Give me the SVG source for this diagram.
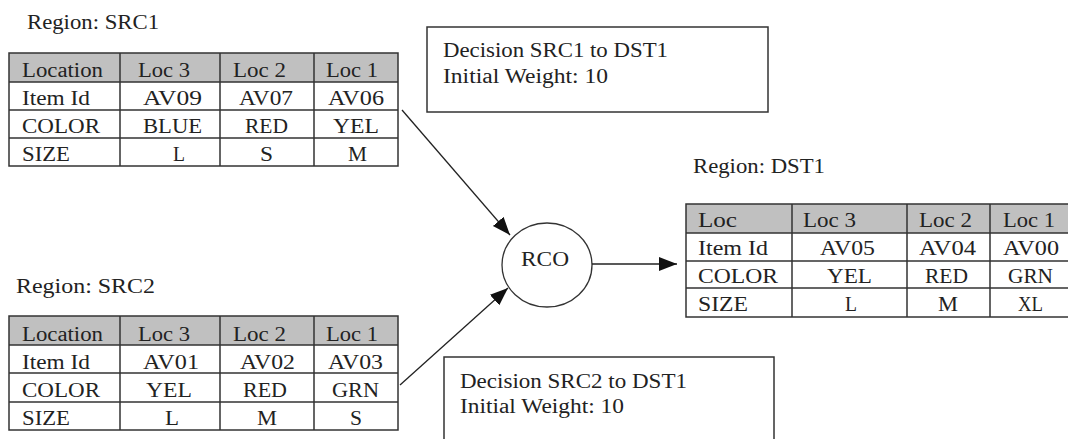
<svg xmlns="http://www.w3.org/2000/svg" width="1068" height="439" viewBox="0 0 1068 439">
<style>
text{font-family:"Liberation Serif","Times New Roman",serif;font-size:20px;fill:#222}
.hdr{fill:#c0c0c0;stroke:none}
.grid{stroke:#333;stroke-width:1.5;fill:none}
.box{fill:#fff;stroke:#333;stroke-width:1.5}
.conn{stroke:#222;stroke-width:1.3;fill:none}
</style>
<defs>
<marker id="ah" markerUnits="userSpaceOnUse" markerWidth="20" markerHeight="16" refX="18" refY="7" orient="auto"><path d="M0,0 L18,7 L0,14 z" fill="#111"/></marker>
</defs>
<rect width="1068" height="439" fill="#fff"/>

<g id="src1">
<text x="27" y="29" textLength="132" lengthAdjust="spacingAndGlyphs">Region: SRC1</text>
<rect class="hdr" x="9" y="53" width="389" height="29"/>
<rect class="grid" x="9" y="53" width="389" height="113"/>
<path class="grid" d="M9 82H398M9 110H398M9 138H398M120 53V166M220 53V166M314 53V166"/>
<text x="22" y="77" textLength="81" lengthAdjust="spacingAndGlyphs">Location</text>
<text x="138" y="77" textLength="52" lengthAdjust="spacingAndGlyphs">Loc 3</text>
<text x="233" y="77" textLength="53" lengthAdjust="spacingAndGlyphs">Loc 2</text>
<text x="326" y="77" textLength="52" lengthAdjust="spacingAndGlyphs">Loc 1</text>
<text x="22" y="105" textLength="68" lengthAdjust="spacingAndGlyphs">Item Id</text>
<text x="143" y="105" textLength="59" lengthAdjust="spacingAndGlyphs">AV09</text>
<text x="239" y="105" textLength="54" lengthAdjust="spacingAndGlyphs">AV07</text>
<text x="328" y="105" textLength="56" lengthAdjust="spacingAndGlyphs">AV06</text>
<text x="22" y="133" textLength="78" lengthAdjust="spacingAndGlyphs">COLOR</text>
<text x="143" y="133" textLength="59" lengthAdjust="spacingAndGlyphs">BLUE</text>
<text x="245" y="133" textLength="43" lengthAdjust="spacingAndGlyphs">RED</text>
<text x="333" y="133" textLength="46" lengthAdjust="spacingAndGlyphs">YEL</text>
<text x="22" y="161" textLength="48" lengthAdjust="spacingAndGlyphs">SIZE</text>
<text x="173" y="161" textLength="12" lengthAdjust="spacingAndGlyphs">L</text>
<text x="260" y="161" textLength="13" lengthAdjust="spacingAndGlyphs">S</text>
<text x="348" y="161" textLength="19" lengthAdjust="spacingAndGlyphs">M</text>
</g>

<g id="src2">
<text x="16" y="293" textLength="139" lengthAdjust="spacingAndGlyphs">Region: SRC2</text>
<rect class="hdr" x="9" y="316" width="389" height="29"/>
<rect class="grid" x="9" y="316" width="389" height="114"/>
<path class="grid" d="M9 345H398M9 373H398M9 402H398M120 316V430M220 316V430M314 316V430"/>
<text x="22" y="341" textLength="81" lengthAdjust="spacingAndGlyphs">Location</text>
<text x="138" y="341" textLength="52" lengthAdjust="spacingAndGlyphs">Loc 3</text>
<text x="233" y="341" textLength="53" lengthAdjust="spacingAndGlyphs">Loc 2</text>
<text x="326" y="341" textLength="52" lengthAdjust="spacingAndGlyphs">Loc 1</text>
<text x="22" y="369" textLength="68" lengthAdjust="spacingAndGlyphs">Item Id</text>
<text x="143" y="369" textLength="56" lengthAdjust="spacingAndGlyphs">AV01</text>
<text x="240" y="369" textLength="55" lengthAdjust="spacingAndGlyphs">AV02</text>
<text x="328" y="369" textLength="55" lengthAdjust="spacingAndGlyphs">AV03</text>
<text x="22" y="397" textLength="78" lengthAdjust="spacingAndGlyphs">COLOR</text>
<text x="146" y="397" textLength="46" lengthAdjust="spacingAndGlyphs">YEL</text>
<text x="243" y="397" textLength="44" lengthAdjust="spacingAndGlyphs">RED</text>
<text x="332" y="397" textLength="47" lengthAdjust="spacingAndGlyphs">GRN</text>
<text x="22" y="425" textLength="48" lengthAdjust="spacingAndGlyphs">SIZE</text>
<text x="165" y="425" textLength="14" lengthAdjust="spacingAndGlyphs">L</text>
<text x="257" y="425" textLength="20" lengthAdjust="spacingAndGlyphs">M</text>
<text x="350" y="425" textLength="12" lengthAdjust="spacingAndGlyphs">S</text>
</g>

<g id="dst1">
<text x="693" y="173" textLength="132" lengthAdjust="spacingAndGlyphs">Region: DST1</text>
<rect class="hdr" x="686" y="204" width="384" height="29"/>
<rect class="grid" x="686" y="204" width="384" height="113"/>
<path class="grid" d="M686 233H1070M686 261H1070M686 288H1070M792 204V317M907 204V317M990 204V317"/>
<text x="698" y="227" textLength="39" lengthAdjust="spacingAndGlyphs">Loc</text>
<text x="803" y="227" textLength="53" lengthAdjust="spacingAndGlyphs">Loc 3</text>
<text x="919" y="227" textLength="53" lengthAdjust="spacingAndGlyphs">Loc 2</text>
<text x="1003" y="227" textLength="52" lengthAdjust="spacingAndGlyphs">Loc 1</text>
<text x="698" y="255" textLength="70" lengthAdjust="spacingAndGlyphs">Item Id</text>
<text x="820" y="255" textLength="55" lengthAdjust="spacingAndGlyphs">AV05</text>
<text x="919" y="255" textLength="57" lengthAdjust="spacingAndGlyphs">AV04</text>
<text x="1003" y="255" textLength="56" lengthAdjust="spacingAndGlyphs">AV00</text>
<text x="698" y="283" textLength="80" lengthAdjust="spacingAndGlyphs">COLOR</text>
<text x="827" y="283" textLength="45" lengthAdjust="spacingAndGlyphs">YEL</text>
<text x="925" y="283" textLength="43" lengthAdjust="spacingAndGlyphs">RED</text>
<text x="1008" y="283" textLength="45" lengthAdjust="spacingAndGlyphs">GRN</text>
<text x="698" y="311" textLength="50" lengthAdjust="spacingAndGlyphs">SIZE</text>
<text x="845" y="311" textLength="12" lengthAdjust="spacingAndGlyphs">L</text>
<text x="938" y="311" textLength="20" lengthAdjust="spacingAndGlyphs">M</text>
<text x="1018" y="311" textLength="25" lengthAdjust="spacingAndGlyphs">XL</text>
</g>

<g id="decision1">
<rect class="box" x="427" y="27" width="341" height="85"/>
<text x="443" y="57" textLength="225" lengthAdjust="spacingAndGlyphs">Decision SRC1 to DST1</text>
<text x="443" y="83" textLength="165" lengthAdjust="spacingAndGlyphs">Initial Weight: 10</text>
</g>

<g id="decision2">
<rect class="box" x="444" y="357" width="330" height="100"/>
<text x="460" y="388" textLength="227" lengthAdjust="spacingAndGlyphs">Decision SRC2 to DST1</text>
<text x="460" y="413" textLength="164" lengthAdjust="spacingAndGlyphs">Initial Weight: 10</text>
</g>

<g id="rco">
<ellipse cx="547" cy="265" rx="45" ry="42" fill="#fff" stroke="#333" stroke-width="1.3"/>
<text x="521" y="266" textLength="48" lengthAdjust="spacingAndGlyphs">RCO</text>
</g>

<g id="connectors">
<line class="conn" x1="402" y1="110" x2="510" y2="235" marker-end="url(#ah)"/>
<line class="conn" x1="400" y1="385" x2="508" y2="288" marker-end="url(#ah)"/>
<line class="conn" x1="592" y1="264" x2="677" y2="264" marker-end="url(#ah)"/>
</g>
</svg>
